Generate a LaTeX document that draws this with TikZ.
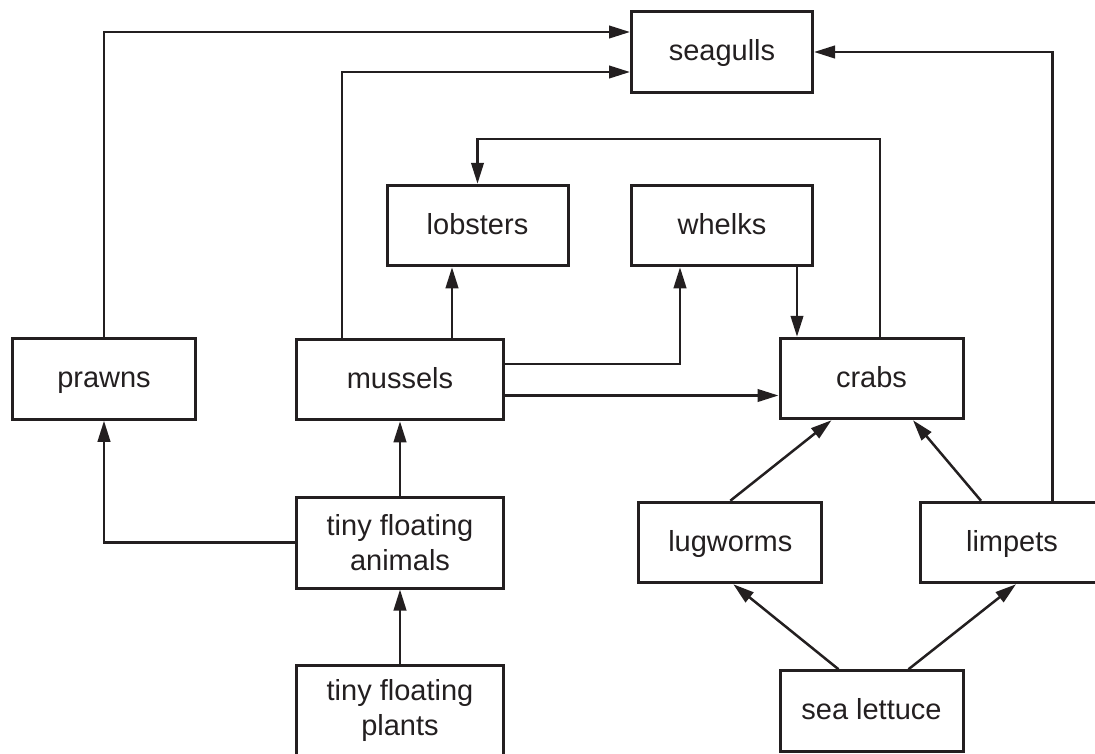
\documentclass[tikz,border=0pt]{standalone}
\usepackage{fontspec}
\setmainfont{Liberation Sans}
\usetikzlibrary{arrows.meta}

\begin{document}
\begin{tikzpicture}[x = 1pt, y = -1pt,
        tile/.style = {draw = myink, rectangle, line width = 3pt, inner sep = 0pt, align = center, text = myink, font = \fontsize{29}{35}\selectfont},
        box/.style = {tile, minimum width = 181pt, minimum height = 80.5pt, text height = 22pt, text depth = 4.5pt},
        widebox/.style = {tile, minimum width = 207.5pt, minimum height = 91pt},
        feeds/.style = {draw = myink, line width = 2.5pt, -{Triangle[length = 21pt, width = 12.5pt]}}]
        \definecolor{myink}{RGB}{35,31,32}

        \useasboundingbox (0, 0) rectangle (1095, 753);
        \clip (0, 0) rectangle (1095, 753);

        \node[box] at (722, 52) (seagulls) {seagulls};
        \node[box] at (477.5, 225.5) (lobsters) {lobsters};
        \node[box] at (722, 225.5) (whelks) {whelks};

        \node[box, minimum width = 183pt] at (104, 379) (prawns) {prawns};
        \node[box, minimum width = 207.5pt] at (400, 379.5) (mussels) {mussels};
        \node[box, minimum width = 183pt] at (871.5, 378.5) (crabs) {crabs};

        \node[widebox] at (400, 542.5) (animals) {tiny floating\\animals};
        \node[box, minimum width = 183pt] at (730.3, 542.5) (lugworms) {lugworms};
        \node[box, minimum width = 183pt] at (1012, 542.5) (limpets) {limpets};

        \node[widebox] at (400, 710.5) (plants) {tiny floating\\plants};
        \node[box, minimum width = 183pt] at (871.5, 711) (lettuce) {sea lettuce};

        \path[feeds] (prawns.north) |- ([yshift = 20pt] seagulls.west);
        \path[feeds] ([xshift = -58pt] mussels.north) |- ([yshift = -20pt] seagulls.west);
        \path[feeds] ([xshift = 40.5pt] limpets.north) |- (seagulls.east);

        \path[feeds] ([xshift = 52pt] mussels.north) -- ([xshift = -25.5pt] lobsters.south);
        \path[feeds] ([yshift = 15.5pt] mussels.east) -| ([xshift = -42pt] whelks.south);
        \path[feeds] ([yshift = -16pt] mussels.east) -- ([yshift = -16pt] mussels.east -| crabs.west);
        \path[feeds] ([xshift = 75pt] whelks.south) -- ([xshift = 75pt] whelks.south |- crabs.north);
        \path[feeds] ([xshift = 8.5pt] crabs.north) -- ++(0, -198) -| (lobsters.north);

        \path[feeds] (animals.north) -- (mussels.south);
        \path[feeds] (animals.west) -| (prawns.south);
        \path[feeds] (plants.north) -- (animals.south);

        \path[feeds] (lugworms.north) -- ([xshift = -40pt] crabs.south);
        \path[feeds] ([xshift = -31pt] limpets.north) -- ([xshift = 41.5pt] crabs.south);
        \path[feeds] ([xshift = -33pt] lettuce.north) -- ([xshift = 3pt] lugworms.south);
        \path[feeds] ([xshift = 37pt] lettuce.north) -- ([xshift = 4pt] limpets.south);
\end{tikzpicture}
\end{document}
